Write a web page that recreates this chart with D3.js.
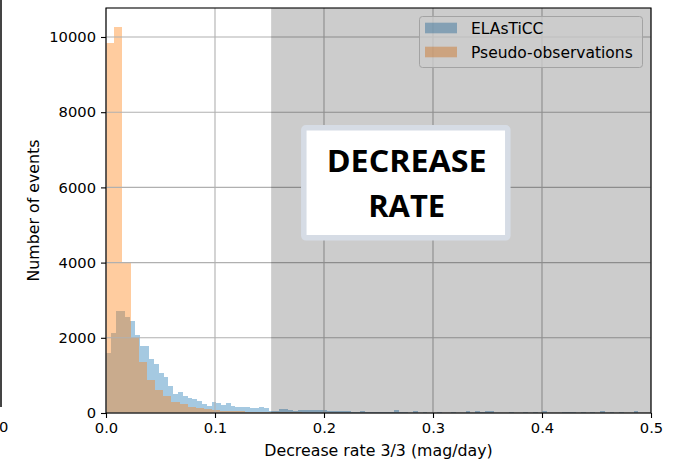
<!DOCTYPE html>
<html>
<head>
<meta charset="utf-8">
<script src="https://cdn.jsdelivr.net/npm/d3@7"></script>
<style>
  html, body { margin: 0; padding: 0; background: #fff; }
  svg { display: block; }
</style>
</head>
<body>
<script>
// ---------------- DATA ----------------
const seriesNames = ["ELAsTiCC", "Pseudo-observations"];
const xTicks = [0.0, 0.1, 0.2, 0.3, 0.4, 0.5];
const xTickLabels = ["0.0", "0.1", "0.2", "0.3", "0.4", "0.5"];
const yTicks = [0, 2000, 4000, 6000, 8000, 10000];
const yTickLabels = ["0", "2000", "4000", "6000", "8000", "10000"];
const xLabel = "Decrease rate 3/3 (mag/day)";
const yLabel = "Number of events";
const boxText = ["DECREASE", "RATE"];
const highlightRange = [0.1515, 0.5];

// histogram bin widths (mag/day)
const elasticcBinWidth = 0.0044;
const pseudoBinWidth = 0.0075;

// ELAsTiCC counts per bin (starting at 0)
const elasticcCounts = [
  1590, 2140, 2700, 2710, 2560, 2460, 2070, 1780, 1780, 1440,
  1300, 1060, 970, 725, 510, 570, 450, 410, 365, 330,
  245, 195, 280, 255, 220, 255, 185, 150, 150, 150,
  140, 125, 150, 125,
  55, 50, 106, 106, 89, 62, 80, 80, 89, 89,
  89, 89, 44, 44, 62, 40, 55, 27, 27, 55,
  27, 27, 27, 35, 35, 35, 80, 15, 35, 12,
  44, 12, 15, 10, 12, 35, 12, 10, 15, 12,
  10, 44, 12, 44, 15, 44, 44, 12, 10, 12,
  27, 10, 12, 20, 10, 20, 10, 53, 12, 10,
  12, 22, 20, 22, 10, 20, 10, 20, 10, 53,
  12, 20, 10, 20, 12, 10, 53, 12, 10
];

// Pseudo-observation counts per bin (starting at 0)
const pseudoCounts = [
  9850, 10260, 4000, 2000, 1350, 880, 620, 440, 280, 235,
  168, 142, 98, 80, 62, 53, 40, 35, 28, 25,
  20, 18, 15, 14, 12, 10, 9, 8, 6, 5,
  5, 4, 4, 3, 3, 3, 2, 2, 2, 2
];

// ---------------- CHART ----------------
const W = 680, H = 460;
const margin = { left: 106, right: 29, top: 8, bottom: 47 };
const svg = d3.select("body").append("svg").attr("width", W).attr("height", H);

const x = d3.scaleLinear().domain([0, 0.5]).range([margin.left, W - margin.right]);
const y = d3.scaleLinear().domain([0, 10771]).range([H - margin.bottom, margin.top]);

const font = "'DejaVu Sans', sans-serif";

// clip
svg.append("clipPath").attr("id", "plotclip").append("rect")
  .attr("x", x(0)).attr("y", y.range()[1])
  .attr("width", x(0.5) - x(0)).attr("height", y(0) - y.range()[1]);

const plot = svg.append("g").attr("clip-path", "url(#plotclip)");

const blueData = elasticcCounts.map((c, i) => ({ x0: i * elasticcBinWidth, x1: (i + 1) * elasticcBinWidth, c }));
const orangeData = pseudoCounts.map((c, i) => ({ x0: i * pseudoBinWidth, x1: (i + 1) * pseudoBinWidth, c }));

plot.append("g").selectAll("rect").data(blueData).join("rect")
  .attr("x", d => x(d.x0)).attr("width", d => x(d.x1) - x(d.x0))
  .attr("y", d => y(d.c)).attr("height", d => y(0) - y(d.c))
  .attr("fill", "#1f77b4").attr("fill-opacity", 0.4)
  .attr("shape-rendering", "crispEdges");

plot.append("g").selectAll("rect").data(orangeData).join("rect")
  .attr("x", d => x(d.x0)).attr("width", d => x(d.x1) - x(d.x0))
  .attr("y", d => y(d.c)).attr("height", d => y(0) - y(d.c))
  .attr("fill", "#ff7f0e").attr("fill-opacity", 0.4)
  .attr("shape-rendering", "crispEdges");

// grid (above bars, like matplotlib default)
const grid = svg.append("g");
grid.selectAll("line.gx").data(xTicks).join("line")
  .attr("x1", d => x(d)).attr("x2", d => x(d))
  .attr("y1", y.range()[1]).attr("y2", y(0))
  .attr("stroke", "#b0b0b0").attr("stroke-width", 1.1);
grid.selectAll("line.gy").data(yTicks).join("line")
  .attr("x1", x(0)).attr("x2", x(0.5))
  .attr("y1", d => y(d)).attr("y2", d => y(d))
  .attr("stroke", "#b0b0b0").attr("stroke-width", 1.1);

// legend
const lg = svg.append("g");
lg.append("rect").attr("x", 419.5).attr("y", 16.5).attr("width", 223).attr("height", 51)
  .attr("rx", 3).attr("fill", "#fff").attr("fill-opacity", 0.8)
  .attr("stroke", "#cccccc").attr("stroke-width", 1);
const legendColors = ["#1f77b4", "#ff7f0e"];
seriesNames.forEach((name, i) => {
  const cy = 28 + i * 24;
  lg.append("rect").attr("x", 425).attr("y", cy - 5.3).attr("width", 32).attr("height", 10.6)
    .attr("fill", legendColors[i]).attr("fill-opacity", 0.4);
  lg.append("text").attr("x", 471).attr("y", cy).attr("dy", "0.36em")
    .attr("font-family", font).attr("font-size", 15.5).attr("fill", "#000").text(name);
});

// highlight overlay
svg.append("rect")
  .attr("x", x(highlightRange[0])).attr("width", x(highlightRange[1]) - x(highlightRange[0]))
  .attr("y", y.range()[1]).attr("height", y(0) - y.range()[1])
  .attr("fill", "#000").attr("fill-opacity", 0.2);

// spines
svg.append("rect").attr("x", x(0)).attr("y", y.range()[1])
  .attr("width", x(0.5) - x(0)).attr("height", y(0) - y.range()[1])
  .attr("fill", "none").attr("stroke", "#000").attr("stroke-width", 1.1);

// axes
const xAxis = d3.axisBottom(x).tickValues(xTicks).tickFormat((d, i) => xTickLabels[i]).tickSize(5).tickPadding(5);
const yAxis = d3.axisLeft(y).tickValues(yTicks).tickFormat((d, i) => yTickLabels[i]).tickSize(5).tickPadding(5);
const gx = svg.append("g").attr("transform", `translate(0,${y(0)})`).call(xAxis);
const gy = svg.append("g").attr("transform", `translate(${x(0)},0)`).call(yAxis);
[gx, gy].forEach(g => {
  g.select(".domain").remove();
  g.selectAll("line").attr("stroke", "#000").attr("stroke-width", 1.1);
  g.selectAll("text").attr("font-family", font).attr("font-size", 14.7).attr("fill", "#000");
});

// axis labels
svg.append("text").attr("x", (x(0) + x(0.5)) / 2).attr("y", 450).attr("dy", "0.36em")
  .attr("text-anchor", "middle").attr("font-family", font).attr("font-size", 15.8).text(xLabel);
svg.append("text").attr("transform", `translate(33,${(y(0) + y.range()[1]) / 2}) rotate(-90)`)
  .attr("dy", "0.36em").attr("text-anchor", "middle")
  .attr("font-family", font).attr("font-size", 15.8).text(yLabel);

// annotation box
const bx = svg.append("g");
bx.append("rect").attr("x", 303.8).attr("y", 127.8).attr("width", 204).attr("height", 110)
  .attr("rx", 2).attr("fill", "#fff").attr("stroke", "#d6dce5").attr("stroke-width", 5.5);
bx.append("text").attr("x", 406.7).attr("y", 171.7).attr("text-anchor", "middle")
  .attr("font-family", "'Open Sans', sans-serif").attr("font-weight", 700).attr("font-size", 31)
  .attr("textLength", 160).attr("lengthAdjust", "spacingAndGlyphs").text(boxText[0]);
bx.append("text").attr("x", 406.7).attr("y", 217.3).attr("text-anchor", "middle")
  .attr("font-family", "'Open Sans', sans-serif").attr("font-weight", 700).attr("font-size", 31)
  .attr("textLength", 77).attr("lengthAdjust", "spacingAndGlyphs").text(boxText[1]);

// neighbouring-panel remnant at left edge
svg.append("line").attr("x1", 1).attr("x2", 1).attr("y1", 0).attr("y2", 407)
  .attr("stroke", "#444").attr("stroke-width", 2);
svg.append("text").attr("x", -1).attr("y", 427).attr("dy", "0.36em")
  .attr("font-family", font).attr("font-size", 14.7).text("0");
</script>
</body>
</html>
